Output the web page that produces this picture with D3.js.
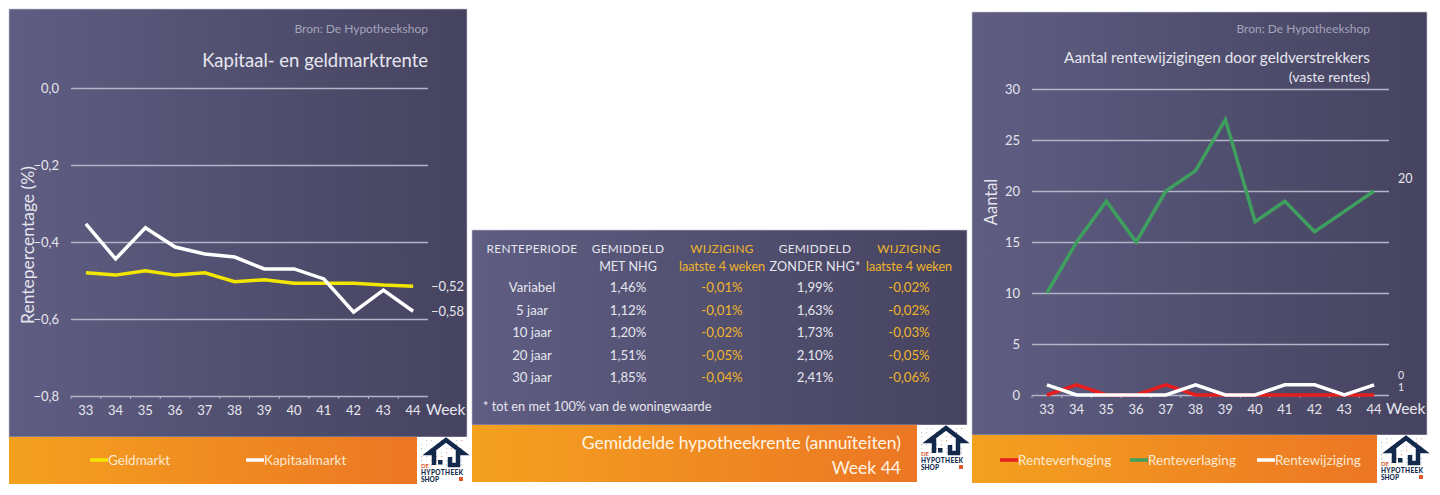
<!DOCTYPE html>
<html>
<head>
<meta charset="utf-8">
<script src="https://cdn.jsdelivr.net/npm/d3@7"></script>
<style>
  body { margin: 0; background: #fff; }
  svg { display: block; font-family: Lato, "Open Sans", sans-serif; }
</style>
</head>
<body>
<div id="chart"></div>
<script>
// ---- data ----
const weeks = [33, 34, 35, 36, 37, 38, 39, 40, 41, 42, 43, 44];
const geldmarkt = [-0.48, -0.486, -0.475, -0.486, -0.48, -0.503, -0.498, -0.507, -0.507, -0.507, -0.512, -0.515];
const kapitaalmarkt = [-0.353, -0.444, -0.363, -0.413, -0.431, -0.439, -0.47, -0.47, -0.496, -0.582, -0.525, -0.58];
const renteTicks = [0, -0.2, -0.4, -0.6, -0.8];

const renteverhoging = [0, 1, 0, 0, 1, 0, 0, 0, 0, 0, 0, 0];
const renteverlaging = [10, 15, 19, 15, 20, 22, 27, 17, 19, 16, 18, 20];
const rentewijziging = [1, 0, 0, 0, 0, 1, 0, 0, 1, 1, 0, 1];
const aantalTicks = [0, 5, 10, 15, 20, 25, 30];

const periodes = ["Variabel", "5 jaar", "10 jaar", "20 jaar", "30 jaar"];
const metNhg = ["1,46%", "1,12%", "1,20%", "1,51%", "1,85%"];
const wijzigingMet = ["-0,01%", "-0,01%", "-0,02%", "-0,05%", "-0,04%"];
const zonderNhg = ["1,99%", "1,63%", "1,73%", "2,10%", "2,41%"];
const wijzigingZonder = ["-0,02%", "-0,02%", "-0,03%", "-0,05%", "-0,06%"];

const nl = d3.formatLocale({ decimal: ",", thousands: ".", grouping: [3], currency: ["€", ""] });

const svg = d3.select("#chart").append("svg")
    .attr("width", 1440)
    .attr("height", 495);

const defs = svg.append("defs");
const dark = defs.append("linearGradient").attr("id", "dark");
dark.append("stop").attr("offset", "0%").attr("stop-color", "#5f5d82");
dark.append("stop").attr("offset", "100%").attr("stop-color", "#45435f");
const orange = defs.append("linearGradient").attr("id", "orange");
orange.append("stop").attr("offset", "0%").attr("stop-color", "#f4a11f");
orange.append("stop").attr("offset", "100%").attr("stop-color", "#ec7624");

const textCol = "#e6e6ee";
const gridCol = "#b4b4c8";

function panel(x, y, w, h, footH) {
    svg.append("rect").attr("x", x).attr("y", y).attr("width", w).attr("height", h - footH)
        .attr("fill", "url(#dark)").attr("stroke", "#c8c8d4").attr("stroke-width", 0.6);
    svg.append("rect").attr("x", x).attr("y", y + h - footH).attr("width", w - 50).attr("height", footH)
        .attr("fill", "url(#orange)");
    logo(x + w - 50, y + h - footH, 50, footH);
}

function logo(x, y, w, h) {
    const g = svg.append("g").attr("transform", `translate(${x},${y})`);
    g.append("rect").attr("width", w).attr("height", h).attr("fill", "#fff");
    // dot pattern
    for (let i = 0; i < 9; i++) {
        for (let j = 0; j < 7; j++) {
            if ((i + j) % 3 === 0) continue;
            g.append("rect").attr("x", 4 + i * 5).attr("y", 3 + j * 4).attr("width", 1.2).attr("height", 1.2)
                .attr("fill", (i + j) % 4 === 0 ? "#e8a080" : "#c8c8d0");
        }
    }
    g.append("path")
        .attr("d", "M17,28 L17,16 L12,16 L29,3 L46,16 L41,16 L41,28 L33,28 L33,20")
        .attr("fill", "none").attr("stroke", "#13294b").attr("stroke-width", 4.5).attr("stroke-linejoin", "miter");
    g.append("rect").attr("x", 21).attr("y", 23).attr("width", 4.5).attr("height", 4.5).attr("fill", "#13294b");
    g.append("text").attr("x", 4).attr("y", 31).text("DE")
        .attr("font-size", 6).attr("font-weight", 700).attr("fill", "#e4572e");
    g.append("text").attr("x", 4).attr("y", 38).text("HYPOTHEEK")
        .attr("font-size", 6.5).attr("font-weight", 900).attr("fill", "#13294b").attr("textLength", 42);
    g.append("text").attr("x", 4).attr("y", 44.5).text("SHOP")
        .attr("font-size", 6.5).attr("font-weight", 900).attr("fill", "#13294b");
    g.append("rect").attr("x", 42).attr("y", 40).attr("width", 4).attr("height", 4).attr("fill", "#e4572e");
}

function legendItem(x, y, color, label) {
    svg.append("line").attr("x1", x).attr("x2", x + 18).attr("y1", y).attr("y2", y)
        .attr("stroke", color).attr("stroke-width", 3.5);
    svg.append("text").attr("x", x + 18).attr("y", y + 4.5).text(label)
        .attr("fill", "#fbe9d0").attr("font-size", 13.5);
}

function yAxis(scale, ticks, x0, x1, fmt) {
    const g = svg.append("g")
        .attr("transform", `translate(${x0},0)`)
        .call(d3.axisLeft(scale).tickValues(ticks).tickSize(-(x1 - x0)).tickPadding(12).tickFormat(fmt));
    g.select(".domain").remove();
    g.selectAll(".tick line").attr("stroke", gridCol).attr("stroke-width", 1.6);
    g.selectAll(".tick text").attr("fill", textCol).attr("font-size", 13).attr("font-family", "Lato, sans-serif");
}

function xAxis(scale, y) {
    const g = svg.append("g")
        .attr("transform", `translate(0,${y})`)
        .call(d3.axisBottom(scale).tickSize(0).tickPadding(10));
    g.select(".domain").remove();
    g.selectAll(".tick text").attr("fill", textCol).attr("font-size", 13).attr("font-family", "Lato, sans-serif");
    const r = scale.range();
    scale.domain().forEach((d, i) => {
        const bx = r[0] + i * scale.step();
        svg.append("line").attr("x1", bx).attr("x2", bx).attr("y1", y).attr("y2", y + 3)
            .attr("stroke", gridCol).attr("stroke-width", 1);
    });
}

function drawLine(xs, ys, values, color, width) {
    const line = d3.line()
        .x((d, i) => xs(weeks[i]) + xs.bandwidth() / 2)
        .y(d => ys(d));
    svg.append("path").datum(values)
        .attr("fill", "none").attr("stroke", color).attr("stroke-width", width)
        .attr("stroke-linejoin", "miter")
        .attr("d", line);
}

// ---- left chart ----
panel(9, 9, 458, 475, 47);

svg.append("text").attr("x", 428).attr("y", 33).attr("text-anchor", "end")
    .attr("fill", "#a4a4bc").attr("font-size", 12).text("Bron: De Hypotheekshop");
svg.append("text").attr("x", 428).attr("y", 67).attr("text-anchor", "end")
    .attr("fill", textCol).attr("font-size", 18.5).text("Kapitaal- en geldmarktrente");

const xL = d3.scaleBand().domain(weeks).range([71, 428]);
const yL = d3.scaleLinear().domain([-0.8, 0]).range([396, 88]);

yAxis(yL, renteTicks, 71, 428, nl.format(".1f"));
xAxis(xL, 396);

svg.append("text").attr("transform", "translate(34,245) rotate(-90)").attr("text-anchor", "middle")
    .attr("fill", textCol).attr("font-size", 17.5).text("Rentepercentage (%)");
svg.append("text").attr("x", 426).attr("y", 415).attr("fill", textCol).attr("font-size", 15.5).text("Week");

drawLine(xL, yL, geldmarkt, "#f2e600", 3.5);
drawLine(xL, yL, kapitaalmarkt, "#ffffff", 3.5);

svg.append("text").attr("x", 431).attr("y", yL(geldmarkt[11]) + 5).attr("fill", textCol).attr("font-size", 13)
    .text(nl.format(".2f")(geldmarkt[11]));
svg.append("text").attr("x", 431).attr("y", yL(kapitaalmarkt[11]) + 5).attr("fill", textCol).attr("font-size", 13)
    .text(nl.format(".2f")(kapitaalmarkt[11]));

legendItem(90, 460, "#f2e600", "Geldmarkt");
legendItem(246, 460, "#ffffff", "Kapitaalmarkt");

// ---- middle table ----
panel(472, 230, 495, 252, 57);

const colX = [532, 628, 722, 815, 909];
const gold = "#f0b52c";
const headTop = ["RENTEPERIODE", "GEMIDDELD", "WIJZIGING", "GEMIDDELD", "WIJZIGING"];
const headBot = ["", "MET NHG", "laatste 4 weken", "ZONDER NHG*", "laatste 4 weken"];
const headCol = [textCol, textCol, gold, textCol, gold];
headTop.forEach((t, i) => {
    svg.append("text").attr("x", colX[i]).attr("y", 253).attr("text-anchor", "middle")
        .attr("fill", headCol[i]).attr("font-size", 11.8).attr("letter-spacing", 0.35).text(t);
    svg.append("text").attr("x", colX[i]).attr("y", 271).attr("text-anchor", "middle")
        .attr("fill", headCol[i]).attr("font-size", 12.6).attr("letter-spacing", i === 3 ? 0.2 : 0).text(headBot[i]);
});
const rowY = d3.scalePoint().domain(periodes).range([292, 382]);
const columns = [periodes, metNhg, wijzigingMet, zonderNhg, wijzigingZonder];
columns.forEach((col, c) => {
    svg.append("g").selectAll("text").data(col).join("text")
        .attr("x", colX[c])
        .attr("y", (d, i) => rowY(periodes[i]))
        .attr("text-anchor", "middle")
        .attr("fill", headCol[c])
        .attr("font-size", 13.2)
        .text(d => d);
});
svg.append("text").attr("x", 483).attr("y", 411).attr("fill", textCol).attr("font-size", 12.8)
    .text("* tot en met 100% van de woningwaarde");
svg.append("text").attr("x", 901).attr("y", 449).attr("text-anchor", "end")
    .attr("fill", "#fff4e4").attr("font-size", 17.5).text("Gemiddelde hypotheekrente (annuïteiten)");
svg.append("text").attr("x", 901).attr("y", 474).attr("text-anchor", "end")
    .attr("fill", "#fff4e4").attr("font-size", 17.5).text("Week 44");

// ---- right chart ----
panel(972, 12, 455, 471, 48);

svg.append("text").attr("x", 1370).attr("y", 33).attr("text-anchor", "end")
    .attr("fill", "#a4a4bc").attr("font-size", 12).text("Bron: De Hypotheekshop");
svg.append("text").attr("x", 1370).attr("y", 63).attr("text-anchor", "end")
    .attr("fill", textCol).attr("font-size", 15.3).text("Aantal rentewijzigingen door geldverstrekkers");
svg.append("text").attr("x", 1370).attr("y", 82).attr("text-anchor", "end")
    .attr("fill", textCol).attr("font-size", 14).text("(vaste rentes)");

const xR = d3.scaleBand().domain(weeks).range([1032, 1389]);
const yR = d3.scaleLinear().domain([0, 30]).range([395, 89]);

yAxis(yR, aantalTicks, 1032, 1389, d3.format("d"));
xAxis(xR, 395);

svg.append("text").attr("transform", "translate(997,202) rotate(-90)").attr("text-anchor", "middle")
    .attr("fill", textCol).attr("font-size", 16.5).text("Aantal");
svg.append("text").attr("x", 1386).attr("y", 414).attr("fill", textCol).attr("font-size", 15.5).text("Week");

drawLine(xR, yR, renteverlaging, "#3f9f5e", 3.5);
drawLine(xR, yR, renteverhoging, "#e51d1d", 3.5);
drawLine(xR, yR, rentewijziging, "#ffffff", 3.5);

svg.append("text").attr("x", 1398).attr("y", yR(renteverlaging[11]) - 8).attr("fill", textCol).attr("font-size", 12.5)
    .text(renteverlaging[11]);
svg.append("text").attr("x", 1398).attr("y", yR(renteverhoging[11]) - 16).attr("fill", textCol).attr("font-size", 10.5)
    .text(renteverhoging[11]);
svg.append("text").attr("x", 1398).attr("y", yR(rentewijziging[11]) + 6).attr("fill", textCol).attr("font-size", 10.5)
    .text(rentewijziging[11]);

legendItem(1000, 460, "#e51d1d", "Renteverhoging");
legendItem(1130, 460, "#3f9f5e", "Renteverlaging");
legendItem(1257, 460, "#ffffff", "Rentewijziging");
</script>
</body>
</html>
